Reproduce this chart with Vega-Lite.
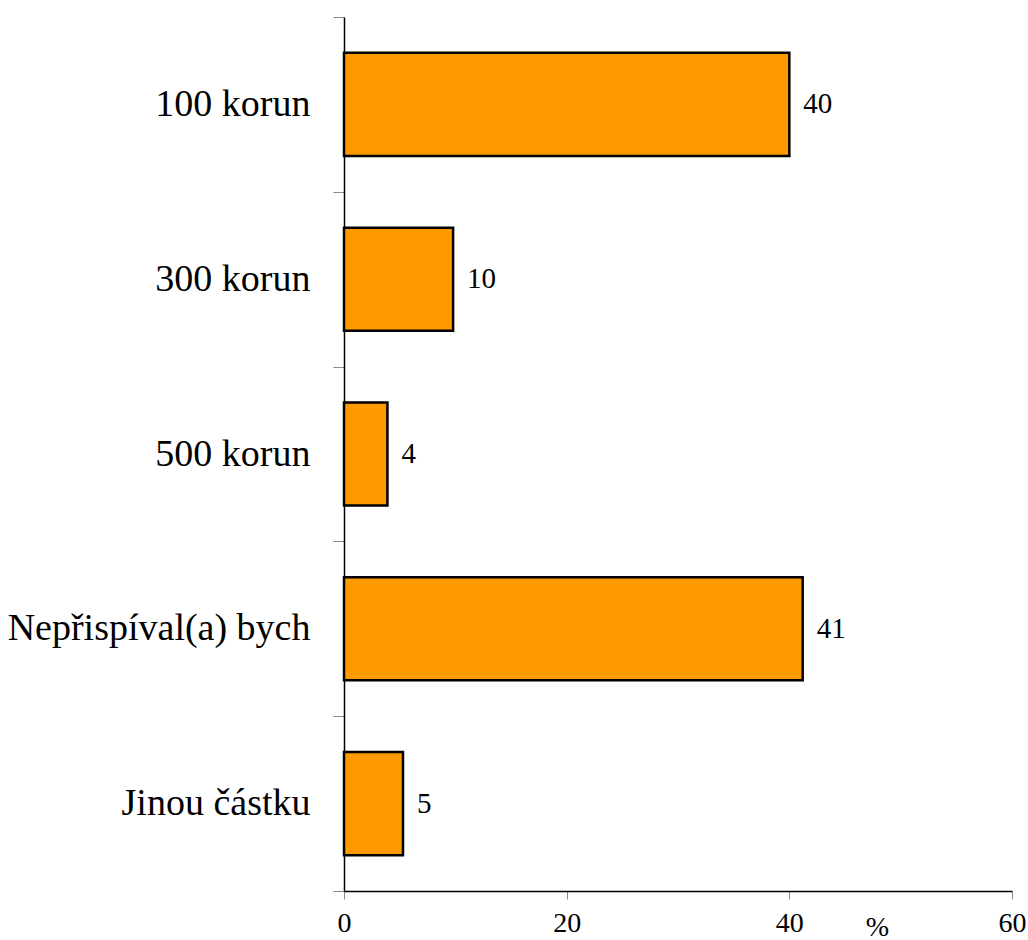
{
  "$schema": "https://vega.github.io/schema/vega-lite/v6.json",
  "width": 668,
  "height": 874,
  "autosize": {"type": "none"},
  "padding": {"left": 344, "top": 17, "right": 16, "bottom": 49},
  "background": "white",
  "config": {"view": {"stroke": null}, "font": "Liberation Serif"},
  "data": {"values": [
    {"kategorie": "100 korun", "hodnota": 40.0, "popisek": "40"},
    {"kategorie": "300 korun", "hodnota": 9.8, "popisek": "10"},
    {"kategorie": "500 korun", "hodnota": 3.9, "popisek": "4"},
    {"kategorie": "Nepřispíval(a) bych", "hodnota": 41.2, "popisek": "41"},
    {"kategorie": "Jinou částku", "hodnota": 5.3, "popisek": "5"}
  ]},
  "encoding": {
    "y": {
      "field": "kategorie", "type": "nominal", "sort": null,
      "scale": {"paddingInner": 0, "paddingOuter": 0},
      "axis": {
        "title": null, "tickBand": "extent", "labelFontSize": 38, "labelColor": "black",
        "labelFont": "Liberation Serif", "labelPadding": 23, "tickColor": "#888", "tickSize": 11,
        "domainColor": "black", "domainWidth": 1.5, "labelLimit": 400
      }
    },
    "x": {
      "field": "hodnota", "type": "quantitative",
      "scale": {"domain": [0, 60], "nice": false},
      "axis": {
        "values": [0, 20, 40, 60], "grid": false, "title": "%", "titleFontSize": 28,
        "titleFontWeight": "normal", "titleFont": "Liberation Serif", "titleColor": "black",
        "titleX": 533, "titleY": 44, "titleBaseline": "alphabetic",
        "labelFontSize": 28, "labelColor": "black", "labelFont": "Liberation Serif",
        "labelPadding": 10, "tickColor": "#888", "tickSize": 8, "domainColor": "black",
        "domainWidth": 1.5, "labelFlush": false
      }
    }
  },
  "layer": [
    {"mark": {"type": "bar", "color": "#FF9900", "stroke": "black", "strokeWidth": 2.5, "height": {"band": 0.59}}},
    {
      "mark": {"type": "text", "align": "left", "dx": 14, "fontSize": 29, "color": "black", "font": "Liberation Serif"},
      "encoding": {"text": {"field": "popisek"}}
    }
  ]
}
